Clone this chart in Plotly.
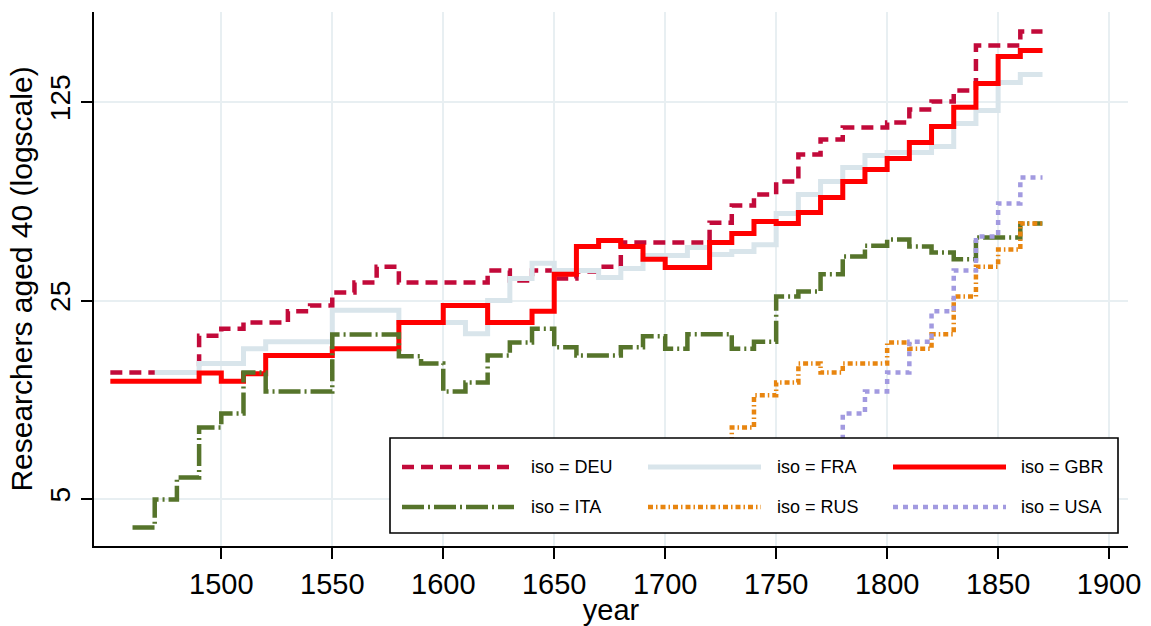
import math
import plotly.graph_objects as go

# ---------------- data ----------------
years = list(range(1450, 1871, 10))

deu = [13.95, 13.95, 13.95, 13.95, 18.8, 19.9, 20.9, 20.9, 22.9, 24.0,
       26.7, 28.9, 32.9, 28.9, 28.9, 28.9, 28.9, 31.9, 29.4, 31.9,
       29.9, 31.6, 32.9, 40.0, 40.0, 40.0, 40.0, 47.0, 54.0, 59.1,
       65.6, 81.7, 92.2, 101.6, 101.6, 105.9, 117.6, 125.5, 137.2, 197.6,
       197.6, 221.4, 221.4]

fra = [None, None, 13.95, 13.95, 15.0, 15.0, 16.9, 17.9, 17.9, 17.9,
       23.1, 23.1, 23.1, 20.9, 20.9, 20.9, 19.1, 25.0, 29.9, 33.8,
       31.9, 31.9, 30.1, 32.4, 36.0, 36.0, 38.4, 36.3, 37.2, 39.3,
       50.6, 59.1, 65.6, 73.5, 81.0, 83.0, 83.0, 87.1, 105.0, 116.7,
       146.4, 156.3, 156.3]

gbr = [13.0, 13.0, 13.0, 13.0, 13.9, 13.0, 13.8, 16.0, 16.0, 16.0,
       16.9, 16.9, 16.9, 20.9, 20.9, 24.0, 24.0, 20.9, 20.9, 22.9,
       30.9, 38.7, 40.7, 38.7, 34.9, 32.7, 32.7, 40.0, 43.0, 47.4,
       46.7, 51.0, 57.6, 65.6, 72.3, 79.1, 90.0, 102.5, 119.7, 145.2,
       180.8, 189.8, 189.8]

ita = [None, 3.97, 4.98, 5.95, 8.93, 10.0, 13.95, 11.96, 11.96, 11.96,
       18.98, 18.98, 18.98, 15.9, 15.0, 11.96, 12.86, 16.0, 17.8, 19.9,
       17.1, 16.0, 16.0, 17.1, 18.7, 16.9, 19.0, 19.0, 16.9, 17.9,
       25.8, 26.9, 30.9, 35.7, 39.0, 41.0, 38.7, 36.9, 34.9, 41.7,
       41.7, 46.7, 46.7]

rus = [None] * 27 + [7.0, 8.93, 11.6, 12.86, 15.0, 13.95, 15.0, 15.0,
                     17.8, 16.9, 19.0, 25.8, 32.9, 37.8, 46.7, 46.7]

usa = [None] * 32 + [7.0, 10.0, 11.96, 13.95, 17.9, 22.9, 31.9, 42.0,
                     54.9, 67.8, 67.8]

codes = ["DEU", "FRA", "GBR", "ITA", "RUS", "USA"]
values = [deu, fra, gbr, ita, rus, usa]

y_ticks = [5, 25, 125]
x_ticks = [1500, 1550, 1600, 1650, 1700, 1750, 1800, 1850, 1900]

# ---------------- styles ----------------
styles = {
    "DEU": dict(color="#c20a3a", width=4.5, dash="12px,7px"),
    "FRA": dict(color="#d9e5eb", width=5, dash="solid"),
    "GBR": dict(color="#ff0000", width=5, dash="solid"),
    "ITA": dict(color="#56742b", width=4.5, dash="22px,4px,2px,4px"),
    "RUS": dict(color="#e8850f", width=4.5, dash="5px,3px,1.5px,3px"),
    "USA": dict(color="#a29ae0", width=4.5, dash="5px,5px"),
}

FONT = "Liberation Sans, Arial, Helvetica, sans-serif"
W, H = 1151, 626
L, R, T, B = 94, 23, 12, 80
PW, PH = W - L - R, H - T - B

fig = go.Figure()
for code, vals in zip(codes, values):
    st = styles[code]
    fig.add_trace(go.Scatter(
        x=years, y=vals, mode="lines", name=f"iso = {code}",
        line=dict(shape="hv", color=st["color"], width=st["width"], dash=st["dash"]),
        connectgaps=False, showlegend=False, hoverinfo="skip"))

def px_x(x):
    return (x - L) / PW

def px_y(y):
    return (H - B - y) / PH

# ---------------- manual legend ----------------
shapes = [dict(type="rect", xref="paper", yref="paper", layer="above",
               x0=px_x(390), x1=px_x(1118), y0=px_y(438), y1=px_y(533),
               fillcolor="white", line=dict(color="black", width=1.6))]
annotations = []
cols = [(402, 514, 529), (648, 761, 775), (893, 1006, 1019)]
rows = [467, 507]
for i, code in enumerate(codes):
    c0, c1, tx = cols[i % 3]
    ry = rows[i // 3]
    st = styles[code]
    shapes.append(dict(type="line", xref="paper", yref="paper", layer="above",
                       x0=px_x(c0), x1=px_x(c1), y0=px_y(ry), y1=px_y(ry),
                       line=dict(color=st["color"], width=st["width"], dash=st["dash"])))
    annotations.append(dict(xref="paper", yref="paper", x=px_x(tx), y=px_y(ry),
                            xanchor="left", yanchor="middle", showarrow=False,
                            text=f"iso = {code}",
                            font=dict(family=FONT, size=18, color="black")))

y25 = 300.5
ppd = 284.0
ytop = math.log10(25) + (y25 - T) / ppd
ybot = math.log10(25) - (H - B - y25) / ppd
xl = 1500 - (221.3 - L) / 2.2195
xr = 1500 + (L + PW - 221.3) / 2.2195

fig.update_layout(
    width=W, height=H,
    margin=dict(l=L, r=R, t=T, b=B, autoexpand=False),
    paper_bgcolor="white", plot_bgcolor="white",
    font=dict(family=FONT, color="black"),
    shapes=shapes, annotations=annotations,
    xaxis=dict(range=[xl, xr], tickmode="array", tickvals=x_ticks,
               ticks="outside", ticklen=11, tickwidth=1.5, tickcolor="black",
               showline=True, linecolor="black", linewidth=1.6,
               showgrid=True, gridcolor="#e8eff2", gridwidth=2, zeroline=False,
               tickfont=dict(family=FONT, size=29, color="black"),
               title=dict(text="year", font=dict(family=FONT, size=29), standoff=2)),
    yaxis=dict(type="log", range=[ybot, ytop], tickmode="array", tickvals=y_ticks,
               ticktext=[str(v) for v in y_ticks], tickangle=-90,
               ticks="outside", ticklen=11, tickwidth=1.5, tickcolor="black",
               showline=True, linecolor="black", linewidth=1.6,
               showgrid=True, gridcolor="#e8eff2", gridwidth=2, zeroline=False,
               tickfont=dict(family=FONT, size=28, color="black"),
               title=dict(text="Researchers aged 40 (logscale)",
                          font=dict(family=FONT, size=30), standoff=4)),
)

fig.write_html("out.html")
